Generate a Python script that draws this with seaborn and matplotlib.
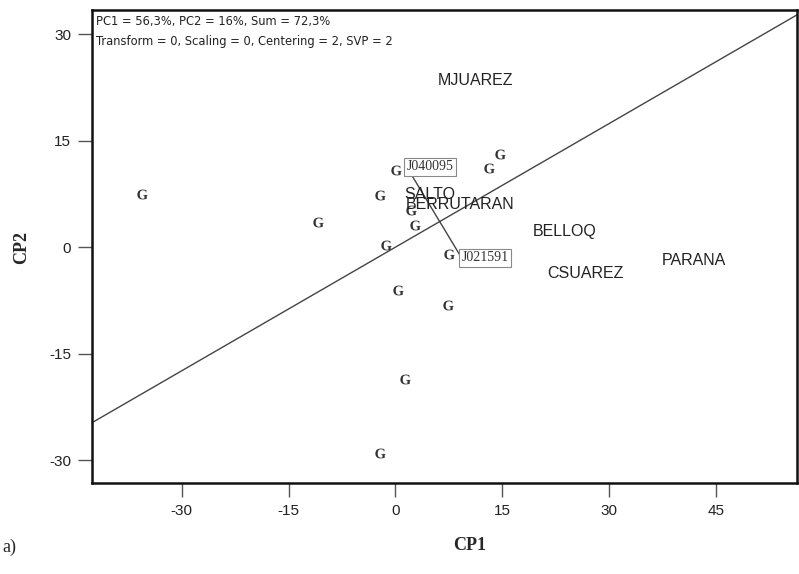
import matplotlib
matplotlib.use("Agg")
import matplotlib.pyplot as plt
import seaborn as sns
import pandas as pd

# Genotype scores (CP1, CP2)
geno_x = [-35.6, -10.8, -2.1, 0.1, -1.3, 2.8, 2.2, 0.4, 7.4, 1.4, -2.2, 7.6, 13.2, 14.7]
geno_y = [7.5, 3.6, 7.4, 10.9, 0.3, 3.1, 5.3, -6.0, -8.2, -18.5, -29.0, -0.9, 11.1, 13.1]

# Environment labels and positions
env_names = ["MJUAREZ", "SALTO", "BERRUTARAN", "BELLOQ", "CSUAREZ", "PARANA"]
env_x = [11.3, 4.9, 9.1, 23.7, 26.7, 41.9]
env_y = [23.5, 7.4, 6.0, 2.2, -3.7, -1.9]

# The two compared genotypes
pair_names = ["J040095", "J021591"]
pair_x = [1.6, 9.3]
pair_y = [11.3, -1.5]

# Line through the origin separating the two genotypes
sep_slope = 0.58

info_lines = ["PC1 = 56,3%, PC2 = 16%, Sum = 72,3%",
              "Transform = 0, Scaling = 0, Centering = 2, SVP = 2"]

x_ticks = [-30, -15, 0, 15, 30, 45]
y_ticks = [-30, -15, 0, 15, 30]

sns.set_style("ticks")
plt.rcParams["font.family"] = ["Liberation Sans", "DejaVu Sans"]
plt.rcParams["axes.unicode_minus"] = False
plt.rcParams["mathtext.fontset"] = "custom"
plt.rcParams["mathtext.bf"] = "Liberation Serif:bold"

fig = plt.figure(figsize=(7.99, 5.74), dpi=100)
ax = fig.add_axes([0.1151, 0.1585, 0.8824, 0.8241])

geno = pd.DataFrame({"CP1": geno_x, "CP2": geno_y})
sns.scatterplot(data=geno, x="CP1", y="CP2", ax=ax, marker=r"$\mathbf{G}$",
                s=55, color="#333333", linewidth=0, legend=False)

ax.axline((0, 0), slope=sep_slope, color="#444444", lw=1.0)

# Line joining the two compared genotypes
sns.lineplot(x=pair_x, y=pair_y, ax=ax, color="#444444", lw=1.0,
             sort=False, estimator=None)
for name, px, py in zip(pair_names, pair_x, pair_y):
    ax.text(px, py, name, family="Liberation Serif", fontsize=10,
            color="#333333", ha="left", va="center",
            bbox=dict(boxstyle="square,pad=0.2", fc="white", ec="#888888", lw=0.8))

for name, ex, ey in zip(env_names, env_x, env_y):
    ax.text(ex, ey, name, fontsize=11.5, color="#222222", ha="center", va="center")

ax.text(96 / 799, 1 - 22 / 574, info_lines[0], transform=fig.transFigure,
        family="DejaVu Sans", fontsize=8.3, color="#222222", ha="left", va="center")
ax.text(96 / 799, 1 - 41 / 574, info_lines[1], transform=fig.transFigure,
        family="DejaVu Sans", fontsize=8.3, color="#222222", ha="left", va="center")

ax.set_xlim(-42.6, 56.4)
ax.set_ylim(-33.2, 33.4)
ax.set_xticks(x_ticks)
ax.set_yticks(y_ticks)
ax.tick_params(length=10, width=1, color="#555555", labelsize=11,
               labelcolor="#222222", pad=5)
for sp in ax.spines.values():
    sp.set_visible(True)
    sp.set_linewidth(1.8)
    sp.set_color("#111111")

ax.set_xlabel("")
ax.set_ylabel("")
fig.text(470 / 799, 1 - 545 / 574, "CP1", family="Liberation Serif",
         fontweight="bold", fontsize=13, ha="center", va="center")
fig.text(22 / 799, 1 - 247 / 574, "CP2", family="Liberation Serif",
         fontweight="bold", fontsize=13, ha="center", va="center", rotation=90)
fig.text(2 / 799, 1 - 547 / 574, "a)", family="Liberation Serif",
         fontsize=13, ha="left", va="center")

fig.savefig("out.png", dpi=100)
